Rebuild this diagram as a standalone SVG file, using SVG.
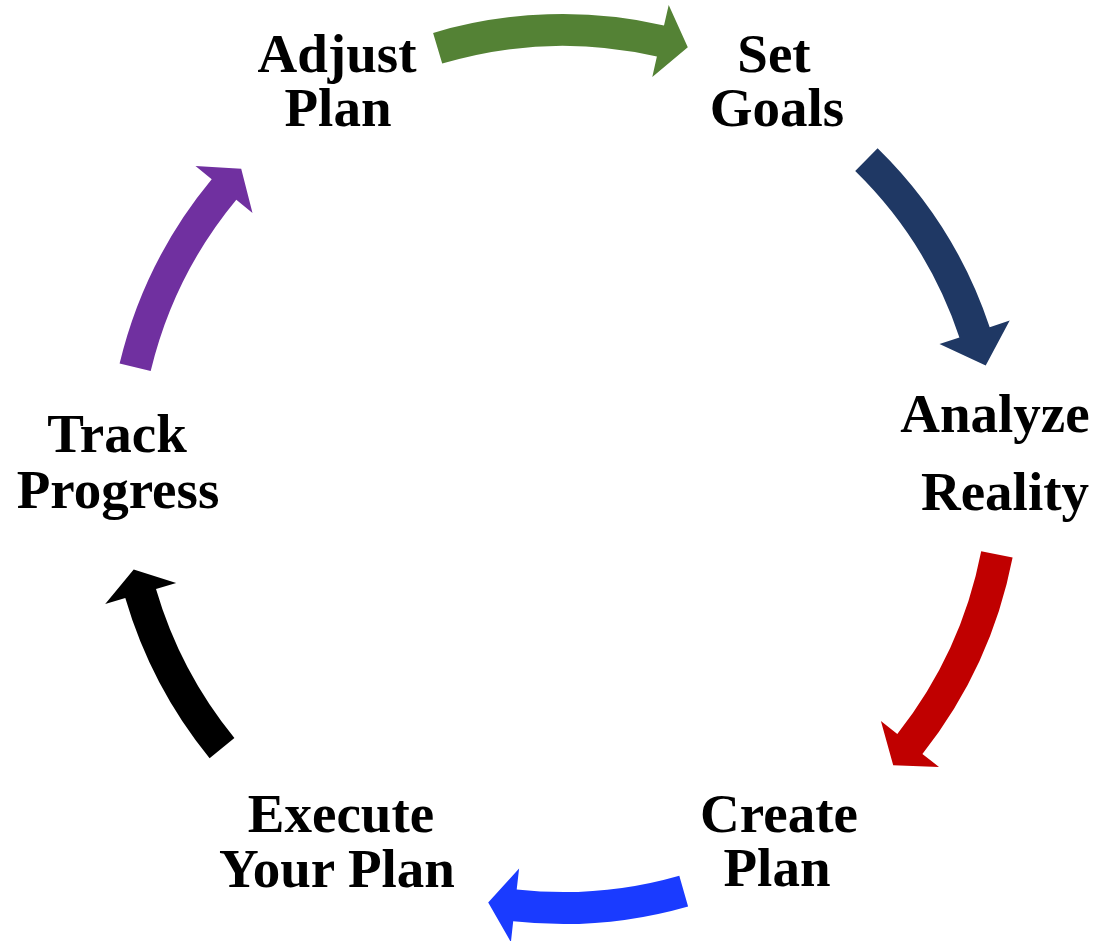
<svg xmlns="http://www.w3.org/2000/svg" width="1099" height="941" viewBox="0 0 1099 941">
<style>
.lbl{font-family:"Liberation Serif","Times New Roman",serif;font-weight:bold;font-size:55px;fill:#000;text-anchor:middle}
</style>
<rect width="1099" height="941" fill="#fff"/>
<g id="connectors">
<path id="a-green" fill="#548235" d="M433.1,32.9 A456,456 0 0 1 664.0,25.4 L668.7,4.9 L687.8,47.2 L652.3,77.1 L656.9,56.6 A424,424 0 0 0 442.2,63.6 Z"/>
<path id="a-navy" fill="#1F3864" d="M877.6,148.2 A450,450 0 0 1 989.7,327.2 L1009.7,320.6 L985.7,365.5 L939.5,344.0 L959.4,337.4 A418,418 0 0 0 855.2,171.1 Z"/>
<path id="a-red" fill="#C00000" d="M1012.6,557.4 A458,458 0 0 1 922.4,753.9 L939.0,766.9 L893.2,765.2 L880.9,721.1 L897.3,734.0 A426,426 0 0 0 981.2,551.3 Z"/>
<path id="a-blue" fill="#1A3BFF" d="M688.1,906.4 A454,454 0 0 1 513.2,921.3 L510.9,942.2 L488.2,902.4 L519.1,868.6 L516.7,889.5 A422,422 0 0 0 679.3,875.7 Z"/>
<path id="a-black" fill="#000000" d="M209.6,758.2 A456,456 0 0 1 125.3,598.0 L105.2,603.9 L133.7,569.5 L176.2,583.1 L156.0,589.0 A424,424 0 0 0 234.4,738.0 Z"/>
<path id="a-purple" fill="#7030A0" d="M119.6,363.6 A456,456 0 0 1 211.7,179.3 L195.5,165.9 L241.2,168.7 L252.5,213.1 L236.3,199.7 A424,424 0 0 0 150.7,371.0 Z"/>
</g>
<g id="adjust-plan"><text class="lbl" x="337" y="72">Adjust</text><text class="lbl" x="338" y="126">Plan</text></g>
<g id="set-goals"><text class="lbl" x="774" y="72">Set</text><text class="lbl" x="777" y="126">Goals</text></g>
<g id="analyze-reality"><text class="lbl" x="995" y="432">Analyze</text><text class="lbl" x="1005" y="510">Reality</text></g>
<g id="create-plan"><text class="lbl" x="779" y="832">Create</text><text class="lbl" x="777" y="886">Plan</text></g>
<g id="execute-plan"><text class="lbl" x="341" y="832">Execute</text><text class="lbl" x="337" y="887">Your Plan</text></g>
<g id="track-progress"><text class="lbl" x="117" y="452">Track</text><text class="lbl" x="118" y="508">Progress</text></g>
</svg>
